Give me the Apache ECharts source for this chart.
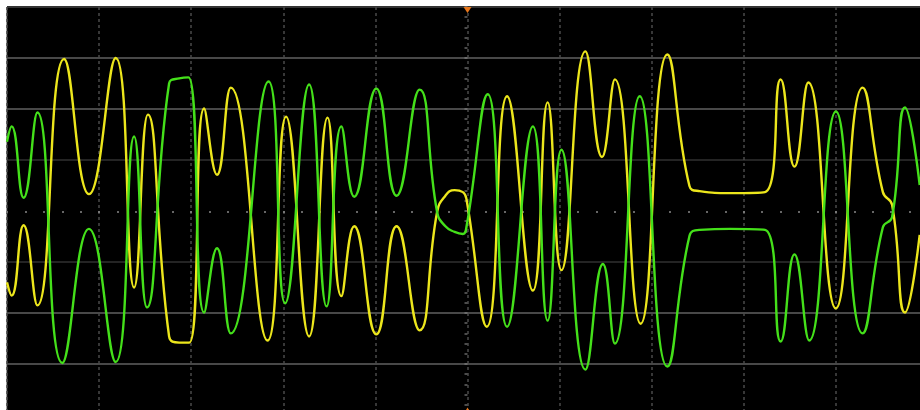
<!DOCTYPE html>
<html>
<head>
<meta charset="utf-8">
<script src="https://cdn.jsdelivr.net/npm/echarts@6/dist/echarts.min.js"></script>
<style>
  html, body { margin: 0; padding: 0; background: #fff; overflow: hidden; }
  #main { width: 930px; height: 420px; }
</style>
</head>
<body>
<div id="main"></div>
<script>
// time in divisions (0 = trigger), level in divisions (0 = centre)
var yellowTime = [-5.00, -4.95, -4.82, -4.67, -4.38, -4.11, -3.82, -3.62, -3.47, -3.24, -3.13, -3.02,
  -2.86, -2.72, -2.57, -2.17, -1.97, -1.72, -1.52, -1.37, -1.23, -0.99, -0.77, -0.52,
  -0.33, -0.24, -0.14, -0.05, -0.01, 0.21, 0.43, 0.71, 0.87, 1.02, 1.28, 1.46, 1.60, 1.88, 2.17,
  2.41, 2.52, 2.85, 3.23, 3.40, 3.55, 3.70, 4.00, 4.29, 4.51, 4.61, 4.75, 4.91];
var yellowLevel = [-1.40, -1.66, -0.28, -1.85, 2.98, 0.33, 3.00, -1.50, 1.89, -2.46, -2.58, -2.58,
  2.01, 0.71, 2.42, -2.54, 1.85, -2.46, 1.83, -1.67, -0.30, -2.42, -0.30, -2.34,
  -0.02, 0.30, 0.41, 0.37, 0.22, -2.27, 2.25, -1.56, 2.13, -1.16, 3.13, 1.06, 2.58, -2.21, 3.07,
  0.49, 0.39, 0.35, 0.37, 2.58, 0.87, 2.52, -1.91, 2.42, 0.37, 0.12, -1.99, -0.47];

var greenTime = [-5.00, -4.95, -4.82, -4.67, -4.40, -4.11, -3.82, -3.62, -3.48, -3.24, -3.13, -3.03,
  -2.86, -2.72, -2.57, -2.16, -1.98, -1.72, -1.53, -1.37, -1.23, -0.99, -0.77, -0.52,
  -0.33, -0.24, -0.14, -0.05, -0.01, 0.22, 0.43, 0.71, 0.87, 1.02, 1.28, 1.47, 1.60, 1.87, 2.17,
  2.41, 2.52, 2.85, 3.23, 3.40, 3.55, 3.71, 4.00, 4.29, 4.51, 4.61, 4.75, 4.91];
var greenLevel = [1.36, 1.66, 0.26, 1.93, -2.98, -0.35, -2.96, 1.46, -1.89, 2.50, 2.60, 2.62,
  -1.99, -0.73, -2.40, 2.54, -1.81, 2.48, -1.87, 1.66, 0.28, 2.40, 0.30, 2.38,
  -0.02, -0.30, -0.41, -0.45, -0.30, 2.29, -2.27, 1.66, -2.15, 1.20, -3.11, -1.04, -2.60, 2.25, -3.05,
  -0.49, -0.37, -0.35, -0.37, -2.56, -0.85, -2.54, 1.95, -2.40, -0.32, -0.12, 2.03, 0.51];

function pairs(t, v) {
  var out = [];
  for (var i = 0; i < t.length; i++) out.push([t[i], v[i]]);
  return out;
}

var chart = echarts.init(document.getElementById('main'));
chart.setOption({
  animation: false,
  backgroundColor: '#fff',
  grid: {
    show: true, left: 7, top: 7, width: 921, height: 408,
    backgroundColor: '#000', borderColor: '#333', borderWidth: 1
  },
  xAxis: {
    type: 'value', min: -5, max: 5, interval: 1,
    axisLine: { show: true, onZero: true, lineStyle: { color: 'rgba(0,0,0,0)' } },
    axisTick: { show: true, length: 2, lineStyle: { color: '#777', width: 2 } },
    minorTick: { show: true, splitNumber: 5, length: 2, lineStyle: { color: '#666', width: 2 } },
    axisLabel: { show: false },
    splitLine: { show: true, lineStyle: { color: '#4a4a4a', width: 1.5, type: [3, 3] } }
  },
  yAxis: {
    type: 'value', min: -4, max: 4, interval: 1,
    axisLine: { show: true, onZero: true, lineStyle: { color: 'rgba(0,0,0,0)' } },
    axisTick: { show: true, length: 3, lineStyle: { color: '#777', width: 1.5 } },
    minorTick: { show: true, splitNumber: 5, length: 3, lineStyle: { color: '#666', width: 1.5 } },
    axisLabel: { show: false },
    splitLine: {
      show: true,
      lineStyle: {
        width: 2,
        color: ['#484848', '#484848', '#484848', '#242424', 'rgba(0,0,0,0)',
                '#242424', '#484848', '#484848', '#333']
      }
    }
  },
  series: [
    {
      name: 'CH1', type: 'line', data: pairs(yellowTime, yellowLevel),
      smooth: true, showSymbol: false,
      lineStyle: { color: '#ece61c', width: 2.4 },
      markPoint: {
        silent: true,
        data: [
          { coord: [0, 4], symbol: 'triangle', symbolRotate: 180, symbolSize: [8, 6], symbolOffset: [0, 3], itemStyle: { color: '#e8771c' } },
          { coord: [0, -3.9], symbol: 'triangle', symbolSize: [6, 5], itemStyle: { color: '#e8771c' } }
        ],
        label: { show: false }
      }
    },
    {
      name: 'CH2', type: 'line', data: pairs(greenTime, greenLevel),
      smooth: true, showSymbol: false,
      lineStyle: { color: '#44e01a', width: 2.4 }
    }
  ]
});
</script>
</body>
</html>
